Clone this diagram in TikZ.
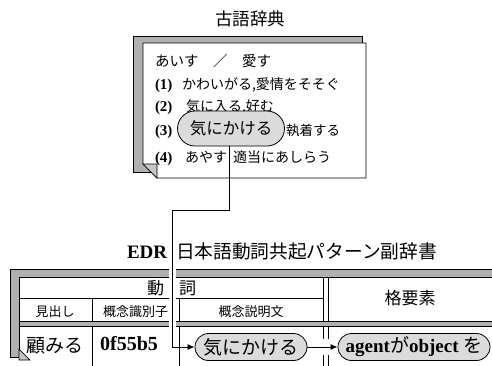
\documentclass[tikz,border=0pt]{standalone}
\usepackage{fontspec}
\setmainfont{Liberation Serif}
\newfontfamily\jp{Noto Sans CJK JP}
\usetikzlibrary{arrows.meta,shapes.misc}
\newcommand\fsz[1]{\fontsize{#1}{#1}\selectfont}
\begin{document}
\begin{tikzpicture}[x=1pt,y=-1pt,
  shade/.style={fill=gray!62,draw=black,line width=0.7pt},
  page/.style={fill=white,draw=black,line width=0.8pt},
  fold/.style={fill=gray!45,draw=black,line width=0.7pt},
  rule/.style={draw=black,line width=0.8pt},
  txt/.style={inner sep=0pt,outer sep=0pt},
  oval/.style={rounded rectangle,draw=black,line width=0.8pt,fill=gray!28,inner sep=0pt},
  conn/.style={draw=black,line width=1pt},
  halo/.style={draw=white,line width=7pt}]
\useasboundingbox (0,0) rectangle (492,365);
\clip (0,0) rectangle (492,365);

% ---------- top card ----------
\node[txt,anchor=base] (t1) at (250,25) {\fsz{17.5}\jp 古語辞典};
\filldraw[shade] (133,36) rectangle (362,172);
\filldraw[page] (143,43) -- (366,43) -- (366,178) -- (157,178) -- (143,164) -- cycle;
\filldraw[fold] (143,164) -- (157,164) -- (157,178) -- cycle;

\node[txt,anchor=base west] (h0) at (155,66) {\fsz{14.5}\jp あいす　／　愛す};
\node[txt,anchor=base west] (n1) at (155,89) {\fsz{15}\bfseries (1)};
\node[txt,anchor=base west] (j1) at (182,89) {\fsz{14}\jp かわいがる,愛情をそそぐ};
\node[txt,anchor=base west] (n2) at (155,111) {\fsz{15}\bfseries (2)};
\node[txt,anchor=base west] (j2) at (186,111) {\fsz{14}\jp 気に入る,好む};
\node[txt,anchor=base west] (n3) at (155,135) {\fsz{15}\bfseries (3)};
\node[oval,minimum width=107pt,minimum height=35pt] (ovtop) at (231,128.5) {\fsz{16.5}\jp 気にかける};
\node[txt,anchor=base west] (j3) at (286,135) {\fsz{13.5}\jp 執着する};
\node[txt,anchor=base west] (n4) at (155,162) {\fsz{15}\bfseries (4)};
\node[txt,anchor=base west] (j4a) at (185,162) {\fsz{14}\jp あやす};
\node[txt,anchor=base west] (j4b) at (233,162) {\fsz{14}\jp 適当にあしらう};

% ---------- bottom table ----------
\node[txt,anchor=base west] (t2a) at (127,258) {\fsz{19}\bfseries EDR};
\node[txt,anchor=base west] (t2b) at (176,258) {\fsz{18.7}\jp 日本語動詞共起パターン副辞書};

\filldraw[shade] (10,269) rectangle (500,357);
\fill[white] (19,277) rectangle (500,380);
\draw[rule] (19,349) -- (19,277) -- (500,277);
\filldraw[fold] (19,349) -- (30,360) -- (19,360) -- cycle;

\draw[rule] (19,298) -- (323,298);
\draw[rule] (92,298) -- (92,370);
\draw[rule] (179,298) -- (179,370);
\draw[rule] (323,277) -- (323,339) (328,277) -- (328,339);
\draw[rule] (323,355) -- (323,370) (328,355) -- (328,370);
\filldraw[shade] (19,321) rectangle (500,326);

\node[txt,anchor=base east] (r1a) at (164,294) {\fsz{17}\jp 動};
\node[txt,anchor=base west] (r1b) at (179,294) {\fsz{17}\jp 詞};
\node[txt,anchor=base] (c1) at (55,316) {\fsz{13}\jp 見出し};
\node[txt,anchor=base] (c2) at (135.5,316) {\fsz{13}\jp 概念識別子};
\node[txt,anchor=base] (c3) at (251,316) {\fsz{13}\jp 概念説明文};
\node[txt,anchor=base] (c4) at (410,304.5) {\fsz{17}\jp 格要素};
\node[txt,anchor=base] (d1) at (55,352) {\fsz{19}\jp 顧みる};
\node[txt,anchor=base] (d2) at (129,350) {\fsz{20}\bfseries 0f55b5};
\node[oval,minimum width=112pt,minimum height=27pt] (ovtab) at (251,347) {\fsz{19}\jp 気にかける};
\node[oval,minimum width=152pt,minimum height=27pt] (ovcase) at (414,347)
  {\fsz{19}\textbf{agent}{\jp が}\textbf{object} {\jp を}};

% ---------- connectors ----------
\coordinate (k1) at (229,210);
\coordinate (k2) at (172,210);
\coordinate (k3) at (172,347);
\draw[halo] (172,264) -- (172,340);
\draw[conn] (ovtop.south -| k1) -- (k1) -- (k2) -- (k3);
\draw[conn,-{Latex[length=7pt,width=6pt]}] (k3) -- (ovtab.west);
\draw[conn,-{Latex[length=7pt,width=6pt]}] (ovtab.east) -- (ovcase.west);
\end{tikzpicture}
\end{document}
